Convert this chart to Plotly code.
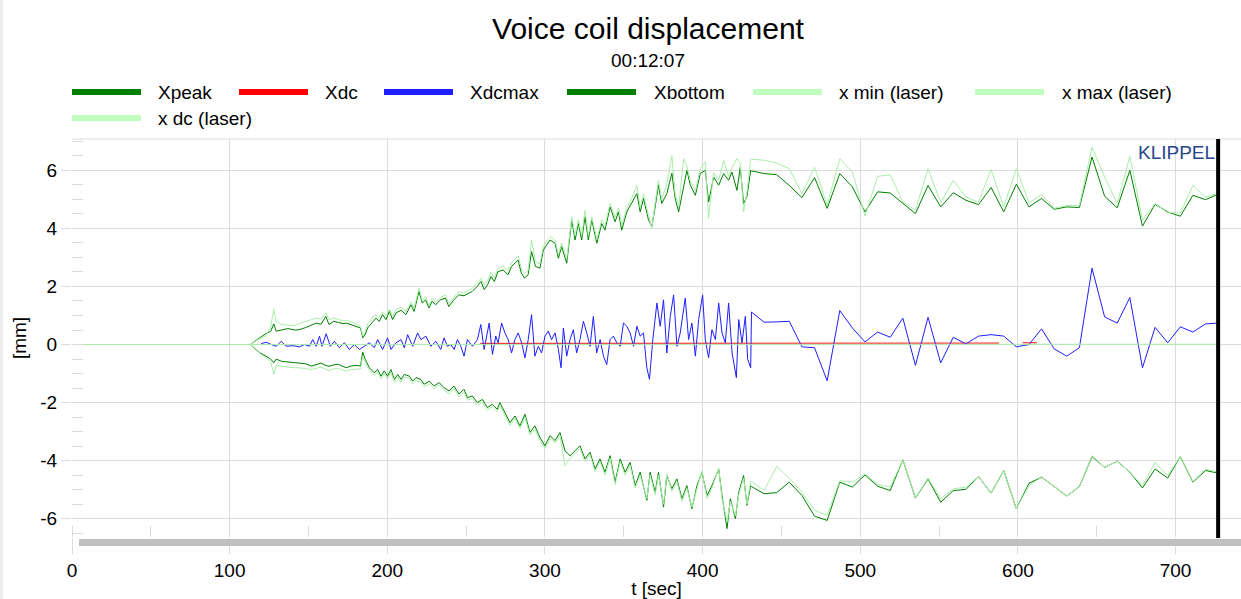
import plotly.graph_objects as go

# ---------------- data ----------------
# sparse part (8 s steps) common time grid
T_SPARSE = [431, 439, 447, 455, 463, 471, 479, 487, 495, 503, 511, 519, 527, 535, 543, 551, 559, 567, 575,
            583, 591, 599, 607, 615, 623, 631, 639, 647, 655, 663, 671, 679, 687, 695, 703, 711, 719, 727]

XPEAK_S = [5.98, 5.89, 5.85, 5.48, 5.06, 5.75, 4.69, 5.89, 5.43, 4.57, 5.26, 5.22, 4.86, 4.51, 5.48, 4.74,
           5.23, 4.97, 4.82, 5.41, 4.57, 5.52, 4.74, 5.03, 4.66, 4.74, 4.72, 6.46, 5.11, 4.71, 6.0, 4.08,
           4.83, 4.57, 4.42, 5.14, 4.99, 5.18]
XMAX_S = [6.38, 6.35, 6.25, 6.06, 5.2, 6.11, 4.8, 6.4, 5.94, 4.42, 5.79, 5.85, 4.91, 4.63, 6.06, 4.88,
          5.66, 5.08, 4.91, 6.03, 4.74, 6.06, 4.88, 5.17, 4.69, 4.79, 4.79, 6.8, 5.77, 4.86, 6.48, 4.29,
          4.86, 4.54, 4.54, 5.48, 5.08, 5.2]
XDCMAX_S = [1.12, 0.77, 0.78, 0.8, -0.08, -0.11, -1.25, 1.17, 0.57, 0.09, 0.43, 0.25, 0.91, -0.72, 0.94,
            -0.63, 0.25, 0.02, 0.29, 0.34, 0.29, -0.08, 0.0, 0.54, -0.15, -0.4, -0.11, 2.63, 0.95, 0.74,
            1.62, -0.8, 0.59, 0.06, 0.61, 0.43, 0.71, 0.74]
XBOTTOM_S = [-4.89, -5.14, -5.1, -4.74, -5.2, -5.91, -6.06, -4.74, -4.91, -4.49, -4.88, -5.03, -3.97, -5.29,
             -4.63, -5.43, -5.03, -4.99, -4.55, -5.12, -4.34, -5.66, -4.78, -4.57, -4.89, -5.22, -4.89,
             -3.86, -4.23, -4.02, -4.4, -4.94, -4.29, -4.6, -3.86, -4.74, -4.34, -4.43]
XMIN_S = [-4.72, -5.03, -4.2, -4.6, -5.09, -5.71, -5.89, -4.69, -4.74, -4.46, -4.82, -4.91, -3.97, -5.29,
          -4.6, -5.31, -4.97, -4.91, -4.55, -5.12, -4.34, -5.66, -4.86, -4.57, -4.89, -5.22, -4.89, -3.83,
          -4.23, -4.02, -4.4, -4.86, -4.06, -4.51, -3.86, -4.72, -4.29, -4.4]

# dense part (upper envelope times)
T_PEAK = [113, 116, 119, 123, 126, 128, 129.5, 133, 137, 141,
          144, 148, 152, 155, 158, 161, 163, 166, 169, 172,
          174, 177, 180, 183, 184.5, 186, 187.5, 190.7, 192.8, 194.9,
          197, 199.2, 201.3, 203.4, 205.5, 208.7, 211.8, 215, 217, 220.1,
          222.2, 224.3, 226.4, 228.5, 230.6, 233.8, 236.9, 239, 242.2, 245.4,
          248.6, 253.9, 257, 259.4, 261.5, 263.6, 265.8, 267.9, 270.2, 273.5,
          276.5, 278.8, 283, 285, 287, 289.3, 291.5, 294, 296.8, 299,
          303.2, 306.4, 308.5, 310.6, 313.8, 317, 319.1, 321.2, 323.3, 325.4,
          327.5, 329.7, 332.9, 336, 338.1, 341.3, 344.5, 346.6, 348.7, 351.9,
          355.1, 358.3, 360.4, 362.5, 365.7, 367.8, 369.9, 372, 374.1, 377.3,
          380.5, 382.6, 384.8, 387.9, 390, 392.2, 395.4, 398.5, 401.7, 403.8,
          407, 410.2, 413.3, 416.5, 418.6, 421.8, 423.9, 426, 428.1, 430.5]
XPEAK_D = [0, 0.12, 0.23, 0.38, 0.45, 0.71, 0.46, 0.5, 0.55, 0.5,
           0.51, 0.58, 0.66, 0.74, 0.7, 0.97, 0.69, 0.8, 0.76, 0.72,
           0.74, 0.68, 0.62, 0.57, 0.23, 0.35, 0.57, 0.8, 0.91, 0.8,
           1.03, 0.86, 1.14, 0.86, 1.09, 1.18, 1.03, 1.37, 1.14, 1.83,
           1.43, 1.54, 1.26, 1.49, 1.37, 1.54, 1.6, 1.31, 1.54, 1.71,
           1.68, 1.83, 2.0, 2.17, 1.89, 2.06, 2.34, 2.17, 2.51, 2.57,
           2.4, 2.69, 2.91, 2.46, 2.29, 2.4, 3.2, 2.69, 2.63, 3.26,
           3.6, 3.49, 2.97, 3.37, 2.8, 4.29, 3.6, 4.17, 3.6, 4.4,
           3.6, 4.29, 3.49, 4.17, 3.94, 4.74, 4.23, 4.57, 3.94, 4.57,
           4.91, 5.2, 4.57, 5.03, 4.29, 4.06, 4.74, 5.5, 4.86, 5.2,
           5.9, 5.03, 4.57, 5.43, 6.0, 5.49, 5.14, 5.89, 6.0, 4.91,
           5.77, 5.49, 5.89, 5.66, 5.94, 5.31, 6.11, 4.86, 5.09, 6.0]
XMAX_D = [0, 0.1, 0.2, 0.3, 0.6, 1.22, 0.8, 0.69, 0.66, 0.65,
          0.72, 0.78, 0.86, 0.91, 0.88, 1.11, 0.85, 0.92, 0.86, 0.82,
          0.84, 0.78, 0.72, 0.62, 0.29, 0.45, 0.7, 0.95, 1.02, 0.92,
          1.13, 1.0, 1.22, 0.98, 1.2, 1.28, 1.15, 1.46, 1.25, 1.95,
          1.52, 1.65, 1.36, 1.6, 1.46, 1.63, 1.7, 1.42, 1.63, 1.82,
          1.77, 1.93, 2.12, 2.28, 2.05, 2.2, 2.5, 2.3, 2.62, 2.7,
          2.55, 2.82, 3.05, 2.62, 2.45, 2.55, 3.6, 2.85, 2.78, 3.4,
          3.72, 3.6, 3.1, 3.5, 2.95, 4.4, 3.75, 4.3, 3.75, 4.63,
          3.75, 4.4, 3.62, 4.3, 4.1, 4.85, 4.38, 4.7, 4.1, 4.7,
          5.05, 5.49, 4.72, 5.18, 4.45, 4.0, 4.88, 5.66, 5.0, 5.54,
          6.51, 5.2, 4.72, 6.4, 6.15, 5.65, 5.3, 6.05, 6.29, 4.34,
          5.92, 5.65, 6.34, 5.8, 6.1, 6.4, 6.25, 4.57, 5.25, 6.38]

# dense part (lower envelope times)
T_BOT = [113, 116, 119, 123, 126, 128, 129.5, 133, 137, 141,
         144, 148, 152, 155, 158, 161, 163, 166, 169, 172,
         174, 177, 180, 183, 184.4, 186, 188.6, 191.7, 193.9, 196,
         198.1, 200.2, 202.3, 204.5, 206.6, 208.7, 210.8, 214, 216.1, 218.2,
         221.3, 223.4, 226.6, 229.7, 232.9, 236, 239.2, 242.3, 245.5, 248.6,
         250.9, 253.9, 257.1, 260.3, 263.4, 266.6, 269.7, 271.4, 274.6, 277.8,
         281, 284.1, 287.3, 290.5, 293.6, 296.8, 300, 303.2, 306.4, 309.5,
         312.7, 315.9, 319.1, 322.2, 325.4, 328.6, 331.8, 334.9, 338.1, 341.3,
         344.5, 347.7, 350.8, 354, 357.2, 360.4, 364.6, 366.7, 369.9, 372,
         375.2, 377.3, 380.5, 383.7, 386.9, 390, 393.2, 396.4, 399.6, 402.8,
         405.9, 410.2, 412.3, 415.5, 417.6, 420.8, 422.9, 426, 428.1, 430.5]
XBOTTOM_D = [0, -0.15, -0.28, -0.4, -0.5, -0.63, -0.5, -0.58, -0.6, -0.62,
             -0.63, -0.66, -0.74, -0.7, -0.64, -0.72, -0.75, -0.7, -0.68, -0.76,
             -0.8, -0.74, -0.72, -0.74, -0.26, -0.51, -0.8, -0.97, -0.86, -1.09,
             -0.91, -1.09, -0.86, -1.2, -1.03, -1.2, -1.03, -1.09, -1.26, -1.14,
             -1.2, -1.37, -1.26, -1.43, -1.31, -1.49, -1.6, -1.43, -1.71, -1.54,
             -1.83, -1.77, -2.0, -1.89, -2.17, -2.06, -2.23, -2.0, -2.34, -2.69,
             -2.46, -2.8, -2.4, -3.03, -2.8, -3.2, -3.49, -3.14, -3.31, -3.03,
             -3.66, -3.83, -3.66, -3.49, -3.94, -3.71, -4.29, -3.94, -4.4, -3.83,
             -4.74, -3.94, -4.4, -4.06, -4.86, -4.4, -5.37, -4.4, -5.09, -4.4,
             -5.6, -4.51, -4.97, -4.63, -5.31, -4.86, -5.66, -4.86, -4.4, -5.2,
             -4.86, -4.29, -5.2, -6.34, -5.31, -6.0, -5.09, -4.51, -5.54, -4.86]
XMIN_D = [0, -0.12, -0.3, -0.45, -0.6, -1.03, -0.72, -0.75, -0.78, -0.8,
          -0.8, -0.84, -0.86, -0.82, -0.78, -0.86, -0.9, -0.84, -0.82, -0.88,
          -0.92, -0.86, -0.84, -0.84, -0.4, -0.6, -0.9, -1.06, -0.95, -1.18,
          -1.0, -1.18, -0.95, -1.3, -1.12, -1.3, -1.12, -1.18, -1.35, -1.24,
          -1.3, -1.46, -1.35, -1.52, -1.4, -1.58, -1.7, -1.52, -1.8, -1.63,
          -1.92, -1.86, -2.1, -1.98, -2.26, -2.15, -2.32, -2.1, -2.44, -2.78,
          -2.56, -2.9, -2.5, -3.12, -2.9, -3.3, -3.58, -3.24, -3.4, -3.12,
          -4.17, -3.92, -3.75, -3.58, -4.03, -3.8, -4.38, -4.03, -4.5, -3.92,
          -4.83, -4.03, -4.5, -4.15, -4.95, -4.5, -5.3, -4.5, -5.18, -4.5,
          -5.5, -4.45, -5.06, -4.72, -5.4, -4.95, -5.6, -4.95, -4.35, -5.3,
          -4.95, -4.25, -5.3, -6.1, -5.4, -5.9, -5.18, -4.6, -5.5, -4.72]

# dense part of Xdcmax
T_DCMAX = [120, 123.2, 126.4, 129.5, 132.7, 135.8, 140.1, 144.3, 147.5, 150.6,
           152.7, 154.9, 157, 158.6, 161.2, 163.9, 166.4, 169.6, 172.8, 175.9,
           179.1, 182.3, 185.4, 188.6, 191.7, 193.9, 197, 200.2, 202.3, 205.5,
           208.7, 210.8, 212.9, 216.1, 219.2, 221.3, 224.5, 227.6, 230.8, 233.9,
           236, 238.1, 240.3, 242.4, 244.5, 246.6, 248.7, 250.8, 254, 257.2,
           259.3, 261.4, 264.6, 266.7, 268.8, 270.3, 272.5, 274.6, 276.7, 278.8,
           280.9, 283, 285.2, 287.3, 289.4, 291.5, 293.6, 295.8, 297.9, 300,
           302.1, 304.2, 306.4, 308.5, 310.2, 311.7, 313.8, 315.9, 318, 320.1,
           322.2, 324.4, 326.5, 328.6, 330.7, 332.8, 335, 337.1, 339.2, 341.3,
           343.4, 345.6, 347.7, 349.8, 351.9, 354, 356.2, 358.3, 360.4, 362.5,
           364.6, 366.3, 368.4, 371, 373.1, 375.2, 377.3, 379.5, 381.6, 383.7,
           385.8, 389, 391.1, 393.2, 395.4, 397.5, 400, 401.7, 403.8, 405.9,
           408.1, 410.2, 412.3, 414.4, 416.5, 418.7, 421.4, 422.9, 425, 427.1,
           428.6, 430.5]
XDCMAX_D = [0.03, 0.08, 0.0, -0.06, 0.11, -0.06, -0.04, -0.08, 0.0, -0.06,
            0.17, -0.06, 0.29, -0.06, 0.37, -0.06, 0.11, -0.11, 0.06, -0.17,
            0.0, -0.17, -0.06, 0.06, -0.11, 0.17, -0.17, 0.23, -0.17, 0.06,
            0.17, -0.11, 0.34, -0.06, 0.4, 0.17, 0.29, -0.06, 0.11, -0.17,
            0.23, -0.06, 0.0, -0.17, 0.17, -0.06, -0.4, 0.17, -0.06, 0.17,
            0.69, -0.17, 0.74, -0.34, 0.29, 0.06, 0.74, 0.4, 0.17, -0.29,
            0.17, 0.4, 0.06, -0.46, 0.17, 1.03, -0.4, -0.06, -0.29, 0.29,
            0.46, 0.17, 0.4, -0.17, -0.8, 0.57, -0.4, 0.17, 0.51, -0.29,
            0.17, 0.8, 0.4, -0.06, 0.97, -0.29, 0.17, -0.4, -0.69, 0.17,
            0.29, 0.06, -0.06, 0.74, 0.63, 0.4, -0.06, 0.63, 0.29, 0.4,
            -0.8, -1.2, 0.17, 1.43, 0.63, 1.54, -0.29, 0.97, 1.71, -0.06,
            0.4, 1.6, 0.17, 0.74, -0.4, 0.86, 1.71, 0.17, -0.46, 0.51,
            0.17, 1.43, 0.4, 0.06, 1.43, -0.29, -1.14, 0.86, 0.06, 0.97,
            -0.51, -0.8]

# Xdc (red) and x dc (laser)
T_XDC = [259, 300, 350, 400, 431, 463, 495, 527, 559, 588, None, 603, 612]
XDC = [0.04, 0.04, 0.05, 0.04, 0.05, 0.06, 0.05, 0.05, 0.06, 0.05, None, 0.06, 0.06]
T_XDC_LASER = [0, 113, 200, 300, 400, 500, 600, 700, 727]
XDC_LASER = [0, 0, 0.01, 0.02, 0.01, 0.01, 0.01, 0.01, 0.01]

TITLE = "Voice coil displacement"
SUBTITLE = "00:12:07"
Y_TICKS = [-6, -4, -2, 0, 2, 4, 6]
Y_TICKTEXT = ["-6", "-4", "-2", "0", "2", "4", "6"]
X_TICKS = [0, 100, 200, 300, 400, 500, 600, 700]
END_TIME = 727

# ---------------- styling ----------------
DARK_GREEN = "rgb(0,128,0)"
LIGHT_GREEN = "rgb(170,238,170)"
SWATCH_LIGHT = "rgb(192,255,192)"
RED = "rgb(255,0,0)"
BLUE = "rgb(30,30,255)"
FONT = "Liberation Sans, Arial, sans-serif"

W, H = 1241, 599
ML, MR, MT, MB = 72, 0, 139, 62
PW, PH = W - ML - MR, H - MT - MB


def px(xp):
    return (xp - ML) / PW


def py(yp):
    return (H - MB - yp) / PH


fig = go.Figure()

series = [
    ("Xpeak", T_PEAK + T_SPARSE, XPEAK_D + XPEAK_S, DARK_GREEN),
    ("Xdc", T_XDC, XDC, RED),
    ("Xdcmax", T_DCMAX + T_SPARSE, XDCMAX_D + XDCMAX_S, BLUE),
    ("Xbottom", T_BOT + T_SPARSE, XBOTTOM_D + XBOTTOM_S, DARK_GREEN),
    ("x min (laser)", [0] + T_BOT + T_SPARSE, [0] + XMIN_D + XMIN_S, LIGHT_GREEN),
    ("x max (laser)", [0] + T_PEAK + T_SPARSE, [0] + XMAX_D + XMAX_S, LIGHT_GREEN),
    ("x dc (laser)", T_XDC_LASER, XDC_LASER, LIGHT_GREEN),
]
for name, xs, ys, col in series:
    fig.add_trace(go.Scatter(x=xs, y=ys, mode="lines", name=name,
                             line=dict(color=col, width=1), showlegend=False,
                             connectgaps=False))

shapes = []
annotations = []

# manual legend (long swatches like the original)
legend_items = [
    ("Xpeak", DARK_GREEN, 72, 141, 156, 92),
    ("Xdc", RED, 239, 308, 323, 92),
    ("Xdcmax", BLUE, 384, 453, 468, 92),
    ("Xbottom", DARK_GREEN, 567, 636, 652, 92),
    ("x min (laser)", SWATCH_LIGHT, 753, 822, 837, 92),
    ("x max (laser)", SWATCH_LIGHT, 975, 1044, 1060, 92),
    ("x dc (laser)", SWATCH_LIGHT, 72, 141, 156, 118),
]
for label, col, x0, x1, tx, yy in legend_items:
    shapes.append(dict(type="line", xref="paper", yref="paper", x0=px(x0), x1=px(x1),
                       y0=py(yy), y1=py(yy), line=dict(color=col, width=6)))
    annotations.append(dict(text=label, xref="paper", yref="paper", x=px(tx), y=py(yy),
                            xanchor="left", yanchor="middle", showarrow=False,
                            font=dict(family=FONT, size=19, color="black")))

# subtitle
annotations.append(dict(text=SUBTITLE, xref="paper", yref="paper", x=px(648), y=py(61),
                        xanchor="center", yanchor="middle", showarrow=False,
                        font=dict(family=FONT, size=19, color="black")))
# KLIPPEL mark
annotations.append(dict(text="KLIPPEL", xref="paper", yref="paper", x=px(1217), y=py(152),
                        xanchor="right", yanchor="middle", showarrow=False,
                        font=dict(family=FONT, size=19, color="rgb(40,70,140)")))

# frame pieces
shapes.append(dict(type="line", xref="paper", yref="paper", x0=0, x1=1, y0=1, y1=1,
                   line=dict(color="#dcdcdc", width=1)))
shapes.append(dict(type="rect", xref="paper", yref="paper", x0=px(0), x1=px(3),
                   y0=py(H), y1=py(0), fillcolor="#ededed", line=dict(width=0)))
shapes.append(dict(type="rect", xref="paper", yref="paper", x0=px(79), x1=1,
                   y0=py(546), y1=py(539), fillcolor="#c0c0c0", line=dict(width=0), layer="above"))
shapes.append(dict(type="line", xref="x", yref="paper", x0=END_TIME, x1=END_TIME, y0=py(538), y1=1,
                   line=dict(color="black", width=4), layer="above"))

fig.update_layout(
    width=W, height=H,
    margin=dict(l=ML, r=MR, t=MT, b=MB, autoexpand=False),
    paper_bgcolor="white", plot_bgcolor="white",
    font=dict(family=FONT, size=19, color="black"),
    title=dict(text=TITLE, xref="container", yref="container", x=648 / W, y=1 - 28 / H,
               xanchor="center", yanchor="middle", font=dict(family=FONT, size=30, color="black")),
    shapes=shapes, annotations=annotations,
    showlegend=False,
    xaxis=dict(range=[0, 741.5], tickmode="array", tickvals=X_TICKS,
               showgrid=True, gridcolor="#dcdcdc", gridwidth=1, zeroline=False, showline=False,
               ticks="outside", ticklen=16, tickcolor="#dcdcdc",
               minor=dict(dtick=50, tick0=0, ticks="inside", ticklen=11, tickcolor="#dcdcdc", showgrid=False),
               tickfont=dict(family=FONT, size=19, color="black"),
               title=dict(text="t [sec]", standoff=4, font=dict(family=FONT, size=19, color="black"))),
    yaxis=dict(range=[-6.63, 7.08], tickmode="array", tickvals=Y_TICKS, ticktext=Y_TICKTEXT,
               showgrid=True, gridcolor="#dcdcdc", gridwidth=1, zeroline=False, showline=False,
               ticks="outside", ticklen=10, tickcolor="#dcdcdc",
               minor=dict(dtick=0.5, tick0=0, ticks="inside", ticklen=11, tickcolor="#dcdcdc", showgrid=False),
               tickfont=dict(family=FONT, size=19, color="black"),
               title=dict(text="[mm]", standoff=8, font=dict(family=FONT, size=19, color="black"))),
)

fig.write_html("out.html")
